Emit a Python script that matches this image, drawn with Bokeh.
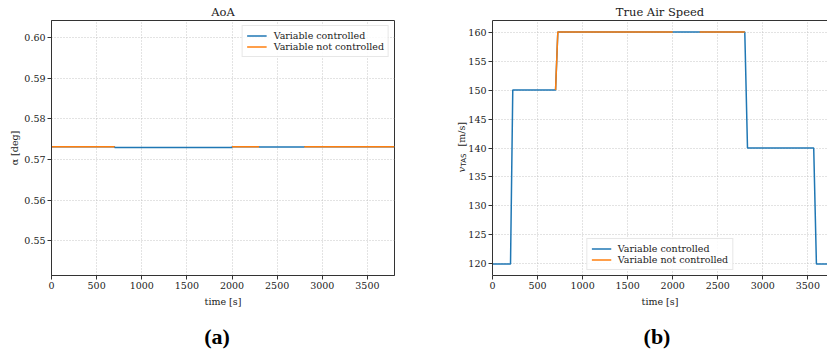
import math
from bokeh.plotting import figure
from bokeh.layouts import row
from bokeh.models import (Range1d, FixedTicker, Label, LinearAxis, NumeralTickFormatter, Title)
from bokeh.embed import file_html
from bokeh.resources import INLINE

NaN = float("nan")

# ---------------- data ----------------
x_ticks = [0, 500, 1000, 1500, 2000, 2500, 3000, 3500]
aoa_ticks = [0.55, 0.56, 0.57, 0.58, 0.59, 0.60]
tas_ticks = [120, 125, 130, 135, 140, 145, 150, 155, 160]

# AoA: full series (controlled) and the parts where it is not controlled
aoa_time = [0, 700, 700, 2000, 2000, 2300, 2300, 2800, 2800, 3800]
aoa_ctrl = [0.57315, 0.57315, 0.57300, 0.57300, 0.57315, 0.57315, 0.57312, 0.57312, 0.57315, 0.57315]
aoa_nc_time = [0, 700, NaN, 2000, 2300, NaN, 2800, 3800]
aoa_nc = [0.57315, 0.57315, NaN, 0.57315, 0.57315, NaN, 0.57315, 0.57315]

# True air speed
tas_time = [0, 200, 225, 700, 725, 2000, 2300, 2800, 2830, 3565, 3595, 3800]
tas_ctrl = [120, 120, 150, 150, 160, 160, 160, 160, 140, 140, 120, 120]
tas_nc_time = [700, 725, 2000, NaN, 2300, 2800]
tas_nc = [150, 160, 160, NaN, 160, 160]

BLUE = "#1f77b4"
ORANGE = "#ff7f0e"
FONT = "DejaVu Serif"
SPINE = "#333333"
GRID = "#b8b8b8"
TXT = "#222222"

FRAME_H = 255
X1 = (0, 3800)
Y1 = (0.54145, 0.60426)
X2 = (0, 3718)
Y2 = (118, 162)


def style(p, yticks, yfmt):
    p.background_fill_color = "white"
    p.border_fill_color = "white"
    p.xaxis.ticker = FixedTicker(ticks=x_ticks)
    p.yaxis.ticker = FixedTicker(ticks=yticks)
    p.yaxis.formatter = NumeralTickFormatter(format=yfmt)
    for ax in [p.xaxis[0], p.yaxis[0]]:
        ax.axis_line_color = SPINE
        ax.major_tick_line_color = SPINE
        ax.minor_tick_line_color = None
        ax.major_tick_out = 4
        ax.major_tick_in = 0
        ax.major_label_standoff = 2
        ax.major_label_text_font = FONT
        ax.major_label_text_font_size = "9.5px"
        ax.major_label_text_color = TXT
        ax.axis_label_text_font = FONT
        ax.axis_label_text_font_size = "9.5px"
        ax.axis_label_text_font_style = "normal"
        ax.axis_label_text_color = TXT
    p.xaxis.axis_label = "time [s]"
    p.xaxis.axis_label_standoff = 4
    for g in (p.xgrid[0], p.ygrid[0]):
        g.grid_line_color = GRID
        g.grid_line_dash = "1 2"
        g.grid_line_width = 0.8


def titles(p, top_text, sub_text, xr, yr, xcenter_px, frame_w):
    p.title = Title(text=top_text, align="center", text_font=FONT, text_font_size="11.5px",
                    text_font_style="normal", text_color=TXT, standoff=4)
    ux = (xr[1] - xr[0]) / frame_w
    uy = (yr[1] - yr[0]) / FRAME_H
    p.add_layout(Label(x=xr[0] + xcenter_px * ux, y=yr[0] - 61 * uy, text=sub_text,
                       text_align="center", text_baseline="middle", text_font="Liberation Serif",
                       text_font_size="22px", text_font_style="bold", text_color="black"), "below")


def legend_style(p, loc):
    lg = p.legend[0]
    lg.location = loc
    lg.margin = 5
    lg.padding = 4
    lg.spacing = 0
    lg.label_height = 11
    lg.glyph_height = 11
    lg.glyph_width = 20
    lg.label_standoff = 7
    lg.label_text_font = FONT
    lg.label_text_font_size = "9.5px"
    lg.label_text_color = TXT
    lg.border_line_color = "#d0d0d0"
    lg.background_fill_alpha = 0.85


# ---------------- left: AoA ----------------
p1 = figure(width=410, height=349, output_backend="svg", toolbar_location=None,
            x_range=Range1d(*X1), y_range=Range1d(*Y1),
            min_border_left=51, min_border_right=16, min_border_top=20, min_border_bottom=74)
p1.line(aoa_time, aoa_ctrl, color=BLUE, line_width=1.5, legend_label="Variable controlled")
p1.line(aoa_nc_time, aoa_nc, color=ORANGE, line_width=1.5, legend_label="Variable not controlled")
style(p1, aoa_ticks, "0.00")
p1.yaxis.axis_label = "α [deg]"
p1.yaxis.axis_label_standoff = 1
p1.outline_line_color = SPINE
p1.outline_line_width = 1
legend_style(p1, "top_right")
titles(p1, "AoA", "(a)", X1, Y1, 165.5, 343)

# ---------------- right: True Air Speed ----------------
p2 = figure(width=417, height=349, output_backend="svg", toolbar_location=None,
            x_range=Range1d(*X2), y_range=Range1d(*Y2),
            min_border_left=82, min_border_right=0, min_border_top=20, min_border_bottom=74)
p2.line(tas_time, tas_ctrl, color=BLUE, line_width=1.5, legend_label="Variable controlled")
p2.line(tas_nc_time, tas_nc, color=ORANGE, line_width=1.5, legend_label="Variable not controlled")
style(p2, tas_ticks, "0")
p2.outline_line_color = None
top = LinearAxis(ticker=FixedTicker(ticks=[]), major_label_text_font_size="0px",
                 major_tick_out=0, major_tick_in=0, minor_tick_out=0, axis_line_color=SPINE)
p2.add_layout(top, "above")
legend_style(p2, "bottom_center")
titles(p2, "True Air Speed", "(b)", X2, Y2, 164.5, 335)

# y label v_TAS [m/s], drawn as text pieces in data units left of the frame
ux = (X2[1] - X2[0]) / 335.0
uy = (Y2[1] - Y2[0]) / FRAME_H
p2.add_layout(Label(x=-31 * ux, y=Y2[0] + 103 * uy, text="v",
                    angle=math.pi / 2, text_align="left", text_baseline="alphabetic", text_font=FONT,
                    text_font_style="italic", text_font_size="10px", text_color=TXT), "left")
p2.add_layout(Label(x=-28.5 * ux, y=Y2[0] + 109 * uy, text="TAS",
                    angle=math.pi / 2, text_align="left", text_baseline="alphabetic",
                    text_font="DejaVu Sans", text_font_size="7px", text_color=TXT), "left")
p2.add_layout(Label(x=-31 * ux, y=Y2[0] + 129 * uy, text="[m/s]",
                    angle=math.pi / 2, text_align="left", text_baseline="alphabetic", text_font=FONT,
                    text_font_size="9.5px", text_color=TXT), "left")

layout = row(p1, p2)
open("out.html", "w").write(file_html(layout, INLINE))
